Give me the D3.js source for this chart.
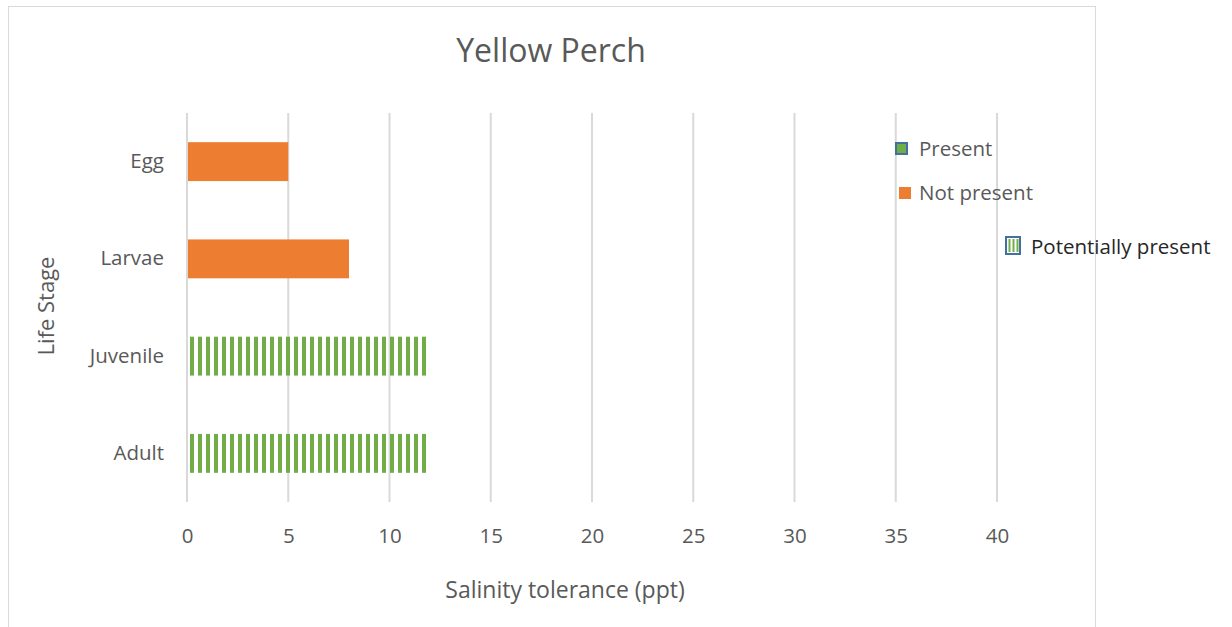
<!DOCTYPE html>
<html>
<head>
<meta charset="utf-8">
<script src="https://cdn.jsdelivr.net/npm/d3@7"></script>
<style>
body{margin:0;background:#fff;font-family:"Open Sans",sans-serif;}
</style>
</head>
<body>
<div class="canvas"></div>
<script>
const stages=["Egg","Larvae","Juvenile","Adult"]
const notPresent=[5,8,0,0]
const potentially=[0,0,12,12]
const xTicks=[0,5,10,15,20,25,30,35,40]
const legendNames=["Present","Not present","Potentially present"]

const W=1232,H=627,
plotLeft=187,plotRight=997,plotTop=113,plotBottom=502,
grey="#595959",orange="#ED7D31",green="#70AD47",blue="#41719C";

const svg=d3.select(".canvas").append("svg")
 .attr("width",W).attr("height",H)
 .style("display","block")
 .style("font-family","'Open Sans',sans-serif");

const defs=svg.append("defs");
const pat=defs.append("pattern").attr("id","vstripe")
 .attr("patternUnits","userSpaceOnUse")
 .attr("width",8).attr("height",8)
 .attr("x",plotLeft+3);
pat.append("rect").attr("x",0).attr("y",0).attr("width",4).attr("height",8).attr("fill",green);

// chart frame
svg.append("rect").attr("x",8.5).attr("y",6.5).attr("width",1087).attr("height",640)
 .attr("fill","#fff").attr("stroke","#d9d9d9");

const x=d3.scaleLinear().domain([0,40]).range([plotLeft,plotRight]);
const y=d3.scaleBand().domain(stages).range([plotTop,plotBottom]).paddingInner(0.6).paddingOuter(0.3);

// gridlines
svg.append("g").selectAll("line").data(xTicks).enter().append("line")
 .attr("x1",d=>x(d)).attr("x2",d=>x(d))
 .attr("y1",plotTop).attr("y2",plotBottom)
 .attr("stroke","#d9d9d9").attr("stroke-width",2);

const xAxis=d3.axisBottom(x).tickValues(xTicks).tickSize(0).tickPadding(26);
const gx=svg.append("g").attr("transform",`translate(0,${plotBottom})`).call(xAxis);
gx.select(".domain").remove();
gx.selectAll("text").attr("fill",grey).style("font-size","20.5px").style("font-family","'Open Sans',sans-serif");

const yAxis=d3.axisLeft(y).tickSize(0).tickPadding(23);
const gy=svg.append("g").attr("transform",`translate(${plotLeft},0)`).call(yAxis);
gy.select(".domain").remove();
gy.selectAll("text").attr("fill",grey).style("font-size","20.5px").style("font-family","'Open Sans',sans-serif");

// bars
svg.append("g").selectAll("rect").data(stages.filter((s,i)=>notPresent[i]>0)).enter().append("rect")
 .attr("x",x(0)+1)
 .attr("y",d=>y(d))
 .attr("width",d=>x(notPresent[stages.indexOf(d)])-x(0)-1)
 .attr("height",y.bandwidth())
 .attr("fill",orange);

svg.append("g").selectAll("rect").data(stages.filter((s,i)=>potentially[i]>0)).enter().append("rect")
 .attr("x",x(0)+3)
 .attr("y",d=>y(d))
 .attr("width",d=>x(potentially[stages.indexOf(d)])-x(0)-3)
 .attr("height",y.bandwidth())
 .attr("fill","url(#vstripe)");

// titles
svg.append("text").attr("x",551).attr("y",62).attr("text-anchor","middle")
 .attr("fill",grey).style("font-size","32px").text("Yellow Perch");
svg.append("text").attr("x",565).attr("y",598).attr("text-anchor","middle")
 .attr("fill",grey).style("font-size","23px").text("Salinity tolerance (ppt)");
svg.append("text").attr("transform","translate(54,306) rotate(-90)").attr("text-anchor","middle")
 .attr("fill",grey).style("font-size","22px").text("Life Stage");

// legend
const lg=svg.append("g");
lg.append("rect").attr("x",896).attr("y",143).attr("width",11).attr("height",11)
 .attr("fill",green).attr("stroke",blue).attr("stroke-width",2);
lg.append("text").attr("x",919).attr("y",156).attr("fill",grey).style("font-size","20.5px").text(legendNames[0]);
lg.append("rect").attr("x",899).attr("y",187).attr("width",12).attr("height",12).attr("fill",orange);
lg.append("text").attr("x",919).attr("y",200).attr("fill",grey).style("font-size","20.5px").text(legendNames[1]);
lg.append("rect").attr("x",1006).attr("y",237).attr("width",14).attr("height",17)
 .attr("fill","#fff").attr("stroke",blue).attr("stroke-width",2);
[1009,1013,1017].forEach(sx=>lg.append("rect").attr("x",sx-0.5).attr("y",239).attr("width",2).attr("height",13).attr("fill",green));
lg.append("text").attr("x",1031).attr("y",254).attr("fill","#262626").style("font-size","20.5px").text(legendNames[2]);
</script>
</body>
</html>
